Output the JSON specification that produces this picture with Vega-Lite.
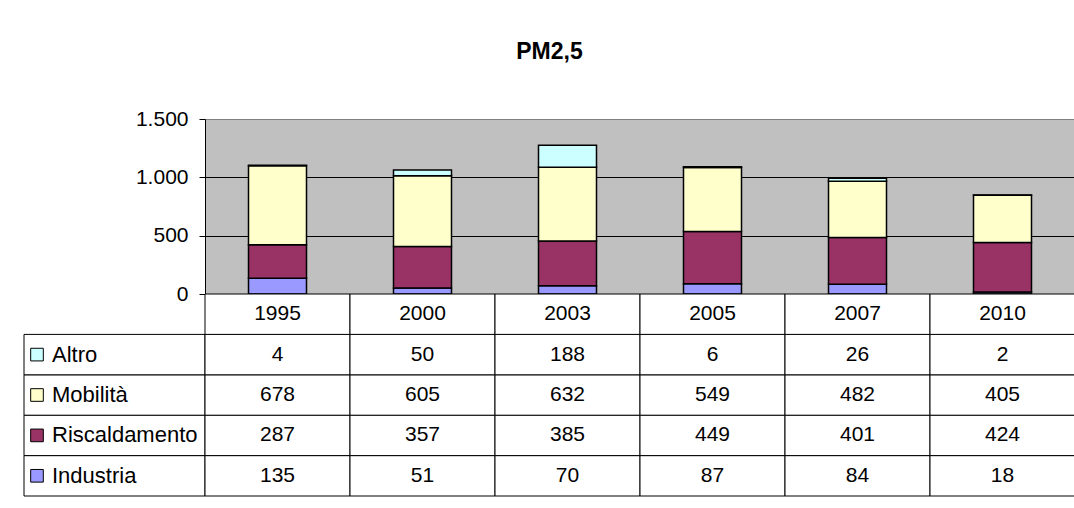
{
  "$schema": "https://vega.github.io/schema/vega-lite/v6.json",
  "background": "white",
  "padding": {"left": 23, "top": 40, "right": 0, "bottom": 0},
  "title": {"text": "PM2,5", "font": "Liberation Sans", "fontSize": 23, "fontWeight": "bold", "color": "black", "anchor": "middle", "offset": 44},
  "config": {"view": {"stroke": null}, "font": "Liberation Sans"},
  "columns": 2,
  "spacing": 0,
  "bounds": "flush",
  "datasets": {
    "pm": [
      {"anno": "1995", "serie": "Industria", "valore": 135},
      {"anno": "1995", "serie": "Riscaldamento", "valore": 287},
      {"anno": "1995", "serie": "Mobilità", "valore": 678},
      {"anno": "1995", "serie": "Altro", "valore": 4},
      {"anno": "2000", "serie": "Industria", "valore": 51},
      {"anno": "2000", "serie": "Riscaldamento", "valore": 357},
      {"anno": "2000", "serie": "Mobilità", "valore": 605},
      {"anno": "2000", "serie": "Altro", "valore": 50},
      {"anno": "2003", "serie": "Industria", "valore": 70},
      {"anno": "2003", "serie": "Riscaldamento", "valore": 385},
      {"anno": "2003", "serie": "Mobilità", "valore": 632},
      {"anno": "2003", "serie": "Altro", "valore": 188},
      {"anno": "2005", "serie": "Industria", "valore": 87},
      {"anno": "2005", "serie": "Riscaldamento", "valore": 449},
      {"anno": "2005", "serie": "Mobilità", "valore": 549},
      {"anno": "2005", "serie": "Altro", "valore": 6},
      {"anno": "2007", "serie": "Industria", "valore": 84},
      {"anno": "2007", "serie": "Riscaldamento", "valore": 401},
      {"anno": "2007", "serie": "Mobilità", "valore": 482},
      {"anno": "2007", "serie": "Altro", "valore": 26},
      {"anno": "2010", "serie": "Industria", "valore": 18},
      {"anno": "2010", "serie": "Riscaldamento", "valore": 424},
      {"anno": "2010", "serie": "Mobilità", "valore": 405},
      {"anno": "2010", "serie": "Altro", "valore": 2}
    ]
  },
  "concat": [
    {
      "width": 181,
      "height": 175,
      "data": {"values": []},
      "mark": "text",
      "encoding": {}
    },
    {
      "width": 870,
      "height": 175,
      "view": {"fill": "#C0C0C0", "stroke": "#808080", "strokeWidth": 1},
      "data": {"name": "pm"},
      "transform": [{"window": [{"op": "row_number", "as": "ordine"}], "groupby": ["anno"]}],
      "mark": {"type": "bar", "stroke": "black", "strokeWidth": 1.5},
      "encoding": {
        "x": {"field": "anno", "type": "ordinal", "axis": null, "scale": {"paddingInner": 0.6, "paddingOuter": 0.3}},
        "y": {
          "field": "valore", "type": "quantitative", "stack": "zero",
          "scale": {"domain": [0, 1500], "nice": false},
          "axis": {
            "values": [0, 500, 1000, 1500],
            "title": null,
            "labelExpr": "replace(format(datum.value, ','), ',', '.')",
            "labelFont": "Liberation Sans",
            "labelFontSize": 21,
            "labelColor": "black",
            "labelPadding": 11,
            "tickColor": "black",
            "tickSize": 6,
            "domainColor": "black",
            "grid": true,
            "gridColor": {"condition": {"test": "datum.value === 1500", "value": "#808080"}, "value": "black"},
            "gridWidth": 1
          }
        },
        "order": {"field": "ordine", "type": "quantitative", "sort": "ascending"},
        "color": {
          "field": "serie", "type": "nominal",
          "scale": {"domain": ["Industria", "Riscaldamento", "Mobilità", "Altro"], "range": ["#9999FF", "#993366", "#FFFFCC", "#CCFFFF"]},
          "legend": null
        }
      }
    },
    {
      "width": 181,
      "height": 202,
      "data": {"name": "pm"},
      "transform": [{"filter": "datum.anno == '1995'"}],
      "encoding": {
        "y": {"field": "serie", "type": "nominal", "axis": null,
          "scale": {"type": "band", "domain": ["Anno", "Altro", "Mobilità", "Riscaldamento", "Industria"], "paddingInner": 0, "paddingOuter": 0}}
      },
      "layer": [
        {
          "mark": {"type": "rect", "fill": "white", "stroke": "black", "strokeWidth": 1},
          "encoding": {
            "x": {"datum": "Serie", "type": "nominal", "axis": null, "scale": {"type": "band", "paddingInner": 0, "paddingOuter": 0}}
          }
        },
        {
          "mark": {"type": "square", "size": 160, "filled": true, "opacity": 1, "stroke": "black", "strokeWidth": 1, "xOffset": 13},
          "encoding": {
            "x": {"datum": "Serie", "type": "nominal", "bandPosition": 0, "axis": null, "scale": {"type": "band", "paddingInner": 0, "paddingOuter": 0}},
            "color": {
              "field": "serie", "type": "nominal",
              "scale": {"domain": ["Industria", "Riscaldamento", "Mobilità", "Altro"], "range": ["#9999FF", "#993366", "#FFFFCC", "#CCFFFF"]},
              "legend": null
            }
          }
        },
        {
          "mark": {"type": "text", "align": "left", "baseline": "middle", "dx": 28, "font": "Liberation Sans", "fontSize": 22, "color": "black"},
          "encoding": {
            "x": {"datum": "Serie", "type": "nominal", "bandPosition": 0, "axis": null, "scale": {"type": "band", "paddingInner": 0, "paddingOuter": 0}},
            "text": {"field": "serie", "type": "nominal"}
          }
        }
      ]
    },
    {
      "width": 870,
      "height": 202,
      "data": {"name": "pm"},
      "layer": [
        {
          "mark": {"type": "rect", "fill": "white", "stroke": "black", "strokeWidth": 1},
          "encoding": {
            "x": {"field": "anno", "type": "ordinal", "axis": null, "scale": {"type": "band", "paddingInner": 0, "paddingOuter": 0}},
            "y": {"field": "serie", "type": "nominal", "axis": null,
              "scale": {"type": "band", "domain": ["Anno", "Altro", "Mobilità", "Riscaldamento", "Industria"], "paddingInner": 0, "paddingOuter": 0}}
          }
        },
        {
          "transform": [{"filter": "datum.serie == 'Industria'"}],
          "mark": {"type": "rect", "fill": "white", "stroke": "black", "strokeWidth": 1},
          "encoding": {
            "x": {"field": "anno", "type": "ordinal", "axis": null},
            "y": {"datum": "Anno", "type": "nominal", "axis": null}
          }
        },
        {
          "mark": {"type": "text", "align": "center", "baseline": "middle", "font": "Liberation Sans", "fontSize": 21, "color": "black"},
          "encoding": {
            "x": {"field": "anno", "type": "ordinal", "axis": null},
            "y": {"field": "serie", "type": "nominal", "axis": null},
            "text": {"field": "valore", "type": "quantitative"}
          }
        },
        {
          "transform": [{"filter": "datum.serie == 'Industria'"}],
          "mark": {"type": "text", "align": "center", "baseline": "middle", "font": "Liberation Sans", "fontSize": 21, "color": "black"},
          "encoding": {
            "x": {"field": "anno", "type": "ordinal", "axis": null},
            "y": {"datum": "Anno", "type": "nominal", "axis": null},
            "text": {"field": "anno", "type": "nominal"}
          }
        }
      ]
    }
  ]
}
